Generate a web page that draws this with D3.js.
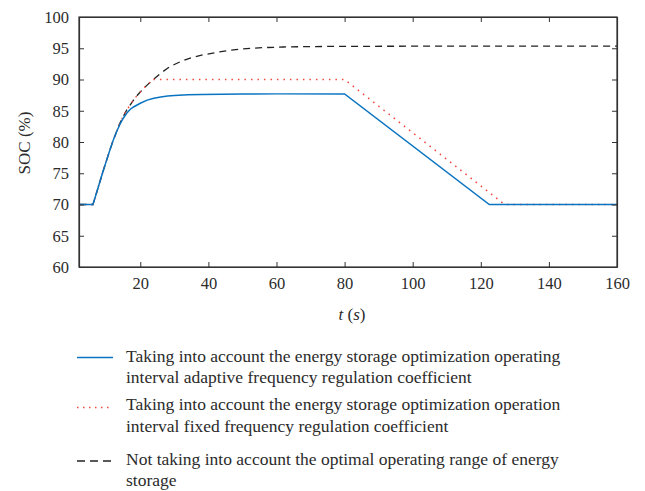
<!DOCTYPE html>
<html><head><meta charset="utf-8">
<script src="https://cdn.jsdelivr.net/npm/d3@7"></script>
<style>body{margin:0;background:#fff}svg{display:block}</style>
</head><body>
<script>
// Data
const xTicks = [20, 40, 60, 80, 100, 120, 140, 160];
const yTicks = [60, 65, 70, 75, 80, 85, 90, 95, 100];

const adaptiveT = [2, 6.1, 7, 8, 9, 10, 11, 12, 13, 14, 15, 16, 17, 18, 20, 22, 24, 26, 28, 30, 34, 38, 44, 50, 60, 80, 122.5, 160];
const adaptiveV = [70, 70, 71.6, 73.4, 75.2, 76.9, 78.6, 80.2, 81.6, 82.8, 83.8, 84.6, 85.2, 85.6, 86.2, 86.7, 87.0, 87.2, 87.35, 87.45, 87.55, 87.6, 87.65, 87.67, 87.7, 87.7, 70, 70];

const fixedT = [2, 6.1, 7, 8, 9, 10, 11, 12, 13, 14, 15, 16, 17, 18, 19, 20, 21, 22, 23, 23.3, 80, 127, 160];
const fixedV = [70, 70, 71.6, 73.4, 75.2, 76.9, 78.6, 80.2, 81.6, 83.0, 84.1, 85.1, 85.9, 86.7, 87.4, 88.0, 88.6, 89.1, 89.6, 90, 90, 70, 70];

const noRangeT = [2, 6.1, 7, 8, 9, 10, 11, 12, 13, 14, 15, 16, 17, 18, 19, 20, 21, 22, 23, 24, 26, 28, 30, 32, 35, 38, 42, 46, 50, 56, 62, 70, 80, 100, 160];
const noRangeV = [70, 70, 71.6, 73.4, 75.2, 76.9, 78.6, 80.2, 81.6, 83.0, 84.1, 85.1, 85.9, 86.7, 87.4, 88.0, 88.6, 89.1, 89.6, 90.1, 91.0, 91.8, 92.4, 92.9, 93.5, 93.9, 94.3, 94.65, 94.9, 95.1, 95.2, 95.27, 95.3, 95.33, 95.35];

const legendLabels = [
  ["Taking into account the energy storage optimization operating", "interval adaptive frequency regulation coefficient"],
  ["Taking into account the energy storage optimization operation", "interval fixed frequency regulation coefficient"],
  ["Not taking into account the optimal operating range of energy", "storage"]
];

const W = 645, H = 491;
const m = {left: 79, right: 617, top: 17, bottom: 267};
const FONT = "'Liberation Serif', 'Times New Roman', serif";
const TXT = "#2b2b2b";
const AX = "#333";

const svg = d3.select("body").append("svg").attr("width", W).attr("height", H)
  .style("font-family", FONT);

const x = d3.scaleLinear().domain([2, 160]).range([m.left, m.right]);
const y = d3.scaleLinear().domain([60, 100]).range([m.bottom, m.top]);

const series = [
  {t: noRangeT, v: noRangeV, color: "#222", dash: "7,5", width: 1.3},
  {t: fixedT, v: fixedV, color: "#f0473c", dash: "1.5,5", width: 1.5},
  {t: adaptiveT, v: adaptiveV, color: "#0a74c0", dash: null, width: 1.5}
];

const line = d3.line().x(d => x(d[0])).y(d => y(d[1]));

series.forEach(s => {
  const pts = s.t.map((t, i) => [t, s.v[i]]);
  svg.append("path").attr("d", line(pts)).attr("fill", "none")
    .attr("stroke", s.color).attr("stroke-width", s.width)
    .attr("stroke-dasharray", s.dash);
});

// axes (ticks inward, box)
const axB = svg.append("g").attr("transform", `translate(0,${m.bottom})`)
  .call(d3.axisBottom(x).tickValues(xTicks).tickSizeInner(-5).tickSizeOuter(0).tickPadding(10));
const axT = svg.append("g").attr("transform", `translate(0,${m.top})`)
  .call(d3.axisTop(x).tickValues(xTicks).tickSizeInner(-5).tickSizeOuter(0).tickFormat(""));
const axL = svg.append("g").attr("transform", `translate(${m.left},0)`)
  .call(d3.axisLeft(y).tickValues(yTicks).tickSizeInner(-5).tickSizeOuter(0).tickPadding(10));
const axR = svg.append("g").attr("transform", `translate(${m.right},0)`)
  .call(d3.axisRight(y).tickValues(yTicks).tickSizeInner(-5).tickSizeOuter(0).tickFormat(""));
[axB, axT, axL, axR].forEach(g => {
  g.select(".domain").attr("stroke", AX).attr("stroke-width", 1.2);
  g.selectAll(".tick line").attr("stroke", AX).attr("stroke-width", 1);
  g.selectAll("text").attr("fill", TXT).style("font-size", "16.5px").style("font-family", FONT);
});
svg.append("rect").attr("x", m.left).attr("y", m.top)
  .attr("width", m.right - m.left).attr("height", m.bottom - m.top)
  .attr("fill", "none").attr("stroke", AX).attr("stroke-width", 1.2);

// axis titles
const xt = svg.append("text").attr("x", 352).attr("y", 320).attr("text-anchor", "middle")
  .attr("fill", TXT).style("font-size", "17px");
xt.append("tspan").style("font-style", "italic").text("t");
xt.append("tspan").text(" (");
xt.append("tspan").style("font-style", "italic").text("s");
xt.append("tspan").text(")");

svg.append("text").attr("transform", `translate(30,${(m.top + m.bottom) / 2 + 1}) rotate(-90)`)
  .attr("text-anchor", "middle").attr("fill", TXT).style("font-size", "17px").text("SOC (%)");

// legend
const legMarkY = [357.5, 407.5, 461];
const legTextY = [[362, 383], [410, 431.5], [465, 485.5]];
const legSeries = [series[2], series[1], series[0]];
const legDash = [null, "1.5,4.5", "8,5"];
legendLabels.forEach((lab, i) => {
  const s = legSeries[i];
  svg.append("line").attr("x1", 77).attr("x2", 113).attr("y1", legMarkY[i]).attr("y2", legMarkY[i])
    .attr("stroke", s.color).attr("stroke-width", s.width).attr("stroke-dasharray", legDash[i]);
  lab.forEach((txt, j) => {
    svg.append("text").attr("x", 126).attr("y", legTextY[i][j])
      .attr("fill", TXT).style("font-size", "17.5px").text(txt);
  });
});
</script>
</body></html>
